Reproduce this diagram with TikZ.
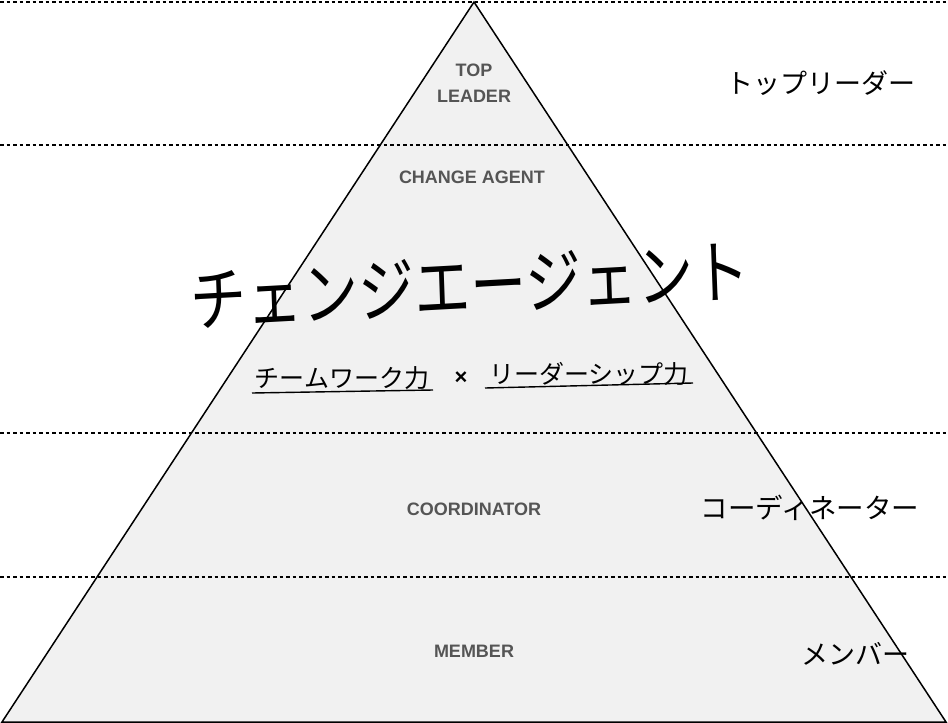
\documentclass[tikz,border=0pt]{standalone}
\usepackage{fontspec}
\setmainfont{Liberation Sans}
\newfontfamily\jp{Noto Sans CJK JP}
\definecolor{fillgray}{HTML}{F1F1F1}
\definecolor{txtgray}{HTML}{555555}
\begin{document}
\begin{tikzpicture}[x=1pt,y=-1pt,
  level/.style={draw=black,dash pattern=on 3.5pt off 3pt,line width=1.3pt},
  en/.style={font=\bfseries\fontsize{18}{26}\selectfont,text=txtgray,align=center},
  jpr/.style={font=\jp\fontsize{25}{28}\selectfont,inner sep=0pt},
  jpl/.style={font=\jp\fontsize{27}{30}\selectfont,inner sep=0pt},
  uline/.style={line width=1.4pt}]
\useasboundingbox (0,0) rectangle (948,723);
\coordinate (apex) at (474,2);
\coordinate (bl) at (2,722);
\coordinate (br) at (946,722);
\fill[fillgray] (apex) -- (bl) -- (br) -- cycle;
\foreach \y/\n in {2/l0,145/l1,433/l2,577/l3}{
  \coordinate (\n a) at (0,\y); \coordinate (\n b) at (948,\y);
  \draw[level] (\n a) -- (\n b);
}
\draw[line width=1.5pt,line join=miter] (apex) -- (bl) -- (br) -- cycle;
\node[en] (top) at (474,83) {TOP\\LEADER};
\node[en] (ca) at (472,177) {CHANGE AGENT};
\node[en] (co) at (474,509) {COORDINATOR};
\node[en] (mem) at (474,651) {MEMBER};
\node[font=\jp\fontsize{56}{60}\selectfont,inner sep=0pt,yscale=1.25,rotate=2.5] (big) at (470,285) {チェンジエージェント};
\node[jpr] (tw) at (342,378) {チームワーク力};
\node[font=\bfseries\fontsize{22}{24}\selectfont,text=black] (x) at (461,378) {×};
\node[jpr] (ls) at (589,374) {リーダーシップ力};
\coordinate (u1a) at (252,393); \coordinate (u1b) at (433,390);
\coordinate (u2a) at (485,388); \coordinate (u2b) at (693,383);
\draw[uline] (u1a) -- (u1b);
\draw[uline] (u2a) -- (u2b);
\node[jpl] (tl) at (821,83) {トップリーダー};
\node[jpl,font=\jp\fontsize{27.5}{30}\selectfont] (cj) at (810,508) {コーディネーター};
\node[jpl] (mj) at (855,654) {メンバー};
\end{tikzpicture}
\end{document}
